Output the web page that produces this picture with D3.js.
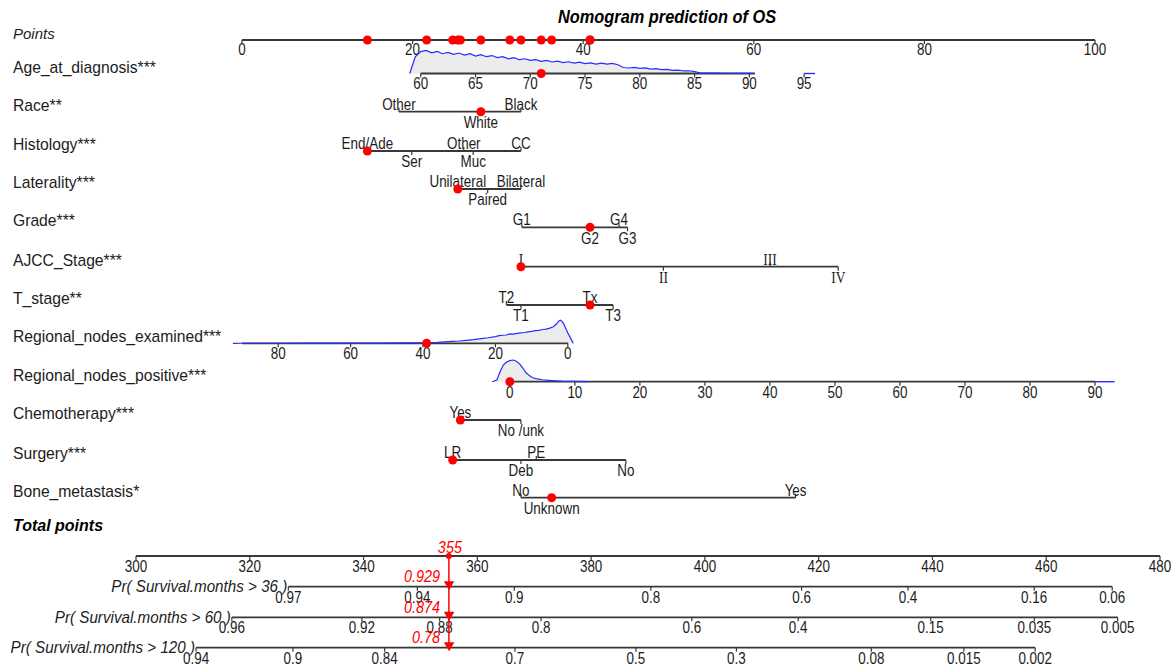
<!DOCTYPE html>
<html>
<head>
<meta charset="utf-8">
<script src="https://cdn.jsdelivr.net/npm/d3@7"></script>
<style>
  html, body { margin: 0; padding: 0; background: #fff; }
  svg { display: block; }
</style>
</head>
<body>
<svg id="chart" width="1173" height="669"></svg>
<script>
// ---------------- data ----------------
const title = "Nomogram prediction of OS";
const pointsTicks = [0, 20, 40, 60, 80, 100];

// Age (continuous)
const ageTicks = [60, 65, 70, 75, 80, 85, 90, 95];
const ageRange = [60, 95];
const agePointsRange = [20.95, 65.9];
const ageAxisExtent = [60, 90.5];
const ageDensityStart = 59;
const ageDensityStep = 0.5;
const ageDensity = [
  0.00, 0.72, 0.95, 1.00, 0.90, 0.96, 0.86, 0.92, 0.83, 0.89,
  0.80, 0.86, 0.76, 0.82, 0.73, 0.78, 0.69, 0.73, 0.64, 0.69,
  0.60, 0.64, 0.57, 0.60, 0.53, 0.57, 0.50, 0.54, 0.47, 0.51,
  0.45, 0.49, 0.43, 0.46, 0.41, 0.45, 0.41, 0.44, 0.38, 0.26,
  0.24, 0.27, 0.22, 0.24, 0.19, 0.21, 0.17, 0.18, 0.14, 0.15,
  0.11, 0.12, 0.08, 0.03, 0.02, 0.02, 0.015, 0.01, 0.01, 0.008,
  0.006, 0.005, 0.003, 0.00
];
const ageTail = [95, 96];
const ageValue = 71;

// Categorical predictors: levels and their points
const raceLevels = ["Other", "White", "Black"];
const racePoints = [18.4, 28.0, 32.7];
const raceValue = "White";

const histologyLevels = ["End/Ade", "Ser", "Other", "Muc", "CC"];
const histologyPoints = [14.7, 19.9, 26.0, 27.1, 32.7];
const histologyValue = "End/Ade";

const lateralityLevels = ["Unilateral", "Paired", "Bilateral"];
const lateralityPoints = [25.3, 28.8, 32.7];
const lateralityValue = "Unilateral";

const gradeLevels = ["G1", "G2", "G4", "G3"];
const gradePoints = [32.8, 40.8, 44.2, 45.2];
const gradeValue = "G2";

const ajccLevels = ["I", "II", "III", "IV"];
const ajccPoints = [32.7, 49.4, 61.9, 69.9];
const ajccValue = "I";

const tStageLevels = ["T2", "T1", "Tx", "T3"];
const tStagePoints = [31.0, 32.7, 40.8, 43.5];
const tStageValue = "Tx";

// Regional nodes examined (continuous, reversed)
const rneTicks = [80, 60, 40, 20, 0];
const rneRange = [0, 90];
const rnePointsRange = [38.2, 0];
const rneAxisExtent = [0, 90];
const rneGrid = [-1.5, -1, -0.5, 0, 0.5, 1, 1.5, 2, 2.5, 3,
  4, 5, 6, 7, 8, 9, 10, 11, 12, 13, 14, 15, 16, 17, 18, 19, 20,
  22, 24, 26, 28, 30, 32, 34, 36, 38, 40,
  45, 50, 60, 70, 80, 90, 92.5];
const rneDensity = [0, 0.15, 0.30, 0.45, 0.62, 0.80, 0.93, 1.00, 0.97, 0.86,
  0.72, 0.66, 0.62, 0.60, 0.56, 0.55, 0.52, 0.50, 0.47, 0.45, 0.43, 0.40, 0.41, 0.36, 0.35, 0.33, 0.29,
  0.24, 0.20, 0.16, 0.13, 0.10, 0.08, 0.06, 0.04, 0.03, 0.02,
  0.015, 0.01, 0.006, 0.004, 0.003, 0.002, 0];
const rneValue = 39;

// Regional nodes positive (continuous)
const rnpTicks = [0, 10, 20, 30, 40, 50, 60, 70, 80, 90];
const rnpRange = [0, 90];
const rnpPointsRange = [31.4, 100];
const rnpAxisExtent = [0, 90];
const rnpGrid = [-2.7, -2, -1.5, -1, -0.5, 0, 0.5, 1, 1.5, 2,
  2.5, 3, 3.5, 4, 5, 6, 7, 8, 10, 12];
const rnpDensity = [0, 0.08, 0.46, 0.77, 0.91, 0.97, 1.00, 0.94, 0.82, 0.63,
  0.41, 0.28, 0.18, 0.14, 0.09, 0.065, 0.045, 0.03, 0.015, 0];
const rnpTail = [90, 93];
const rnpValue = 0;

const chemoLevels = ["Yes", "No /unk"];
const chemoPoints = [25.6, 32.7];
const chemoValue = "Yes";

const surgeryLevels = ["LR", "Deb", "PE", "No"];
const surgeryPoints = [24.7, 32.7, 34.5, 45.0];
const surgeryValue = "LR";

const boneLevels = ["No", "Unknown", "Yes"];
const bonePoints = [32.7, 36.3, 64.9];
const boneValue = "Unknown";

// Total points and survival probability scales
const totalTicks = [300, 320, 340, 360, 380, 400, 420, 440, 460, 480];
const totalScore = 355;
const survLabels = ["Pr( Survival.months > 36 )", "Pr( Survival.months > 60 )", "Pr( Survival.months > 120 )"];
const surv36Ticks = [0.97, 0.94, 0.9, 0.8, 0.6, 0.4, 0.16, 0.06];
const surv60Ticks = [0.96, 0.92, 0.88, 0.8, 0.6, 0.4, 0.15, 0.035, 0.005];
const surv120Ticks = [0.94, 0.9, 0.84, 0.7, 0.5, 0.3, 0.08, 0.015, 0.002];
const survPredicted = [0.929, 0.874, 0.78];
const survLabelText = ["0.929", "0.874", "0.78"];
// total points at which log(-log S) = 0, and points per unit of log(-log S)
const survBaseline = [438.5, 419.2, 399.6];
const survSlope = 32.0;

// ---------------- drawing ----------------
const FONT = "'Liberation Sans', Arial, Helvetica, sans-serif";
const AXIS = "#383838";
const RED = "#ff0000";
const BLUE = "#2b2bff";
const FILL = "#ececec";

const svg = d3.select("#chart");
const gBack = svg.append("g");
const gAxes = svg.append("g");
const gText = svg.append("g");
const gBlue = svg.append("g");
const gDots = svg.append("g");

const xPts = d3.scaleLinear().domain([0, 100]).range([242, 1095]);
const xTotal = d3.scaleLinear().domain([300, 480]).range([136, 1160]);

// text with optional horizontal compression (sq)
function label(x, y, s, o = {}) {
  const sq = o.sq != null ? o.sq : 0.84;
  return gText.append("text")
    .attr("transform", `translate(${x},${y}) scale(${sq},1)`)
    .attr("text-anchor", o.anchor || "middle")
    .attr("dominant-baseline", "central")
    .attr("font-family", o.family || FONT)
    .attr("font-size", o.size || 16)
    .attr("font-style", o.italic ? "italic" : null)
    .attr("font-weight", o.bold ? "bold" : null)
    .attr("fill", o.color || "#1c1c1c")
    .text(s);
}

function hline(x1, x2, y, color = AXIS, w = 1.8) {
  gAxes.append("line").attr("x1", x1).attr("x2", x2).attr("y1", y).attr("y2", y)
    .attr("stroke", color).attr("stroke-width", w);
}
function vtick(x, y, len, color = AXIS) {
  gAxes.append("line").attr("x1", x).attr("x2", x).attr("y1", y).attr("y2", y + len)
    .attr("stroke", color).attr("stroke-width", 1.2);
}

const rowLabelX = 13;
const pointDots = [];

function rowLabel(text, y, o = {}) {
  label(rowLabelX, y, text, Object.assign({ anchor: "start", size: 16, sq: 0.98 }, o));
}

// categorical predictor row
function categoricalRow(name, y, levels, pts, value, family) {
  rowLabel(name, y - 6.5);
  const xs = pts.map(p => xPts(p));
  hline(d3.min(xs), d3.max(xs), y);
  const order = d3.range(levels.length).sort((a, b) => pts[a] - pts[b]);
  order.forEach((i, k) => {
    const above = k % 2 === 0;
    vtick(xs[i], y, above ? -4 : 4);
    label(xs[i], y + (above ? -7.5 : 11), levels[i], { family: family });
  });
  const p = pts[levels.indexOf(value)];
  pointDots.push(p);
  gDots.append("circle").attr("cx", xPts(p)).attr("cy", y).attr("r", 4.5).attr("fill", RED);
}

// continuous predictor row with its density
function continuousRow(name, y, ticks, toPts, axisExtent, grid, dens, hPx, tails, value) {
  rowLabel(name, y - 6.5);
  const xv = v => xPts(toPts(v));
  const pts = grid.map((g, i) => [g, dens[i]]);
  const area = d3.area().x(d => xv(d[0])).y0(y).y1(d => y - d[1] * hPx);
  const line = d3.line().x(d => xv(d[0])).y(d => y - d[1] * hPx);
  gBack.append("path").attr("d", area(pts)).attr("fill", FILL);
  hline(xv(axisExtent[0]), xv(axisExtent[1]), y);
  ticks.forEach(t => {
    vtick(xv(t), y, 4);
    label(xv(t), y + 10.5, String(t));
  });
  gBlue.append("path").attr("d", line(pts)).attr("fill", "none")
    .attr("stroke", BLUE).attr("stroke-width", 1.2);
  if (tails) {
    gBlue.append("line").attr("x1", xv(tails[0])).attr("x2", xv(tails[1]))
      .attr("y1", y).attr("y2", y).attr("stroke", BLUE).attr("stroke-width", 1.4);
  }
  const p = toPts(value);
  pointDots.push(p);
  gDots.append("circle").attr("cx", xv(value)).attr("cy", y).attr("r", 4.5).attr("fill", RED);
}

// title
label(667, 17, title, { size: 18, bold: true, italic: true, color: "#000", sq: 0.91 });

// points scale
const yPoints = 40;
rowLabel("Points", yPoints - 7, { italic: true, size: 15, sq: 1 });
hline(xPts(0), xPts(100), yPoints);
pointsTicks.forEach(t => {
  vtick(xPts(t), yPoints, 4);
  label(xPts(t), yPoints + 10, String(t));
});

const ageToPts = d3.scaleLinear().domain(ageRange).range(agePointsRange);
const ageGrid = ageDensity.map((_, i) => ageDensityStart + i * ageDensityStep);
continuousRow("Age_at_diagnosis***", 73.5, ageTicks, ageToPts, ageAxisExtent,
  ageGrid, ageDensity, 23, ageTail, ageValue);

categoricalRow("Race**", 111.7, raceLevels, racePoints, raceValue);
categoricalRow("Histology***", 151, histologyLevels, histologyPoints, histologyValue);
categoricalRow("Laterality***", 189, lateralityLevels, lateralityPoints, lateralityValue);
categoricalRow("Grade***", 227.3, gradeLevels, gradePoints, gradeValue);
categoricalRow("AJCC_Stage***", 266.7, ajccLevels, ajccPoints, ajccValue,
  "'Liberation Serif', 'Times New Roman', serif");
categoricalRow("T_stage**", 305, tStageLevels, tStagePoints, tStageValue);

const rneToPts = d3.scaleLinear().domain(rneRange).range(rnePointsRange);
continuousRow("Regional_nodes_examined***", 343.3, rneTicks, rneToPts, rneAxisExtent,
  rneGrid, rneDensity, 23, null, rneValue);

const rnpToPts = d3.scaleLinear().domain(rnpRange).range(rnpPointsRange);
continuousRow("Regional_nodes_positive***", 381.7, rnpTicks, rnpToPts, rnpAxisExtent,
  rnpGrid, rnpDensity, 21.7, rnpTail, rnpValue);

categoricalRow("Chemotherapy***", 420, chemoLevels, chemoPoints, chemoValue);
categoricalRow("Surgery***", 460, surgeryLevels, surgeryPoints, surgeryValue);
categoricalRow("Bone_metastasis*", 497.7, boneLevels, bonePoints, boneValue);

// each predictor's contribution marked on the points scale
pointDots.forEach(p => {
  gDots.append("circle").attr("cx", xPts(p)).attr("cy", yPoints).attr("r", 4.5).attr("fill", RED);
});

// total points scale
const yTotal = 556;
label(rowLabelX, 525, "Total points", { anchor: "start", size: 16, bold: true, italic: true, color: "#000", sq: 1 });
hline(xTotal(300), xTotal(480), yTotal);
totalTicks.forEach(t => {
  vtick(xTotal(t), yTotal, 4);
  label(xTotal(t), yTotal + 11, String(t));
});

// survival probability scales
const survTicks = [surv36Ticks, surv60Ticks, surv120Ticks];
const survY = [586.7, 617.3, 647.7];
const probToTotal = (p, k) => survBaseline[k] + survSlope * Math.log(-Math.log(p));

survTicks.forEach((ticks, k) => {
  const y = survY[k];
  const xs = ticks.map(p => xTotal(probToTotal(p, k)));
  hline(d3.min(xs), d3.max(xs), y);
  ticks.forEach((p, i) => {
    vtick(xs[i], y, 4);
    label(xs[i], y + 10.5, String(p));
  });
  label(d3.min(xs) - 1, y, survLabels[k], { anchor: "end", size: 16, italic: true, sq: 0.95 });
});

// predicted total and probabilities
const xScore = xTotal(totalScore);
const gRed = svg.append("g");
gRed.append("line").attr("x1", xScore).attr("x2", xScore)
  .attr("y1", yTotal).attr("y2", survY[2])
  .attr("stroke", RED).attr("stroke-width", 1.5);
gRed.append("circle").attr("cx", xScore).attr("cy", yTotal).attr("r", 3).attr("fill", RED);
label(xScore + 1, yTotal - 8.5, String(totalScore), { size: 16, italic: true, color: RED, sq: 0.9 });

const tri = d3.symbol().type(d3.symbolTriangle).size(48);
survPredicted.forEach((p, k) => {
  const x = xTotal(probToTotal(p, k));
  gRed.append("path").attr("d", tri())
    .attr("transform", `translate(${x},${survY[k] - 2.5}) rotate(180)`)
    .attr("fill", RED);
  label(x - 9, survY[k] - 10, survLabelText[k], { anchor: "end", size: 16, italic: true, color: RED, sq: 0.9 });
});
</script>
</body>
</html>
